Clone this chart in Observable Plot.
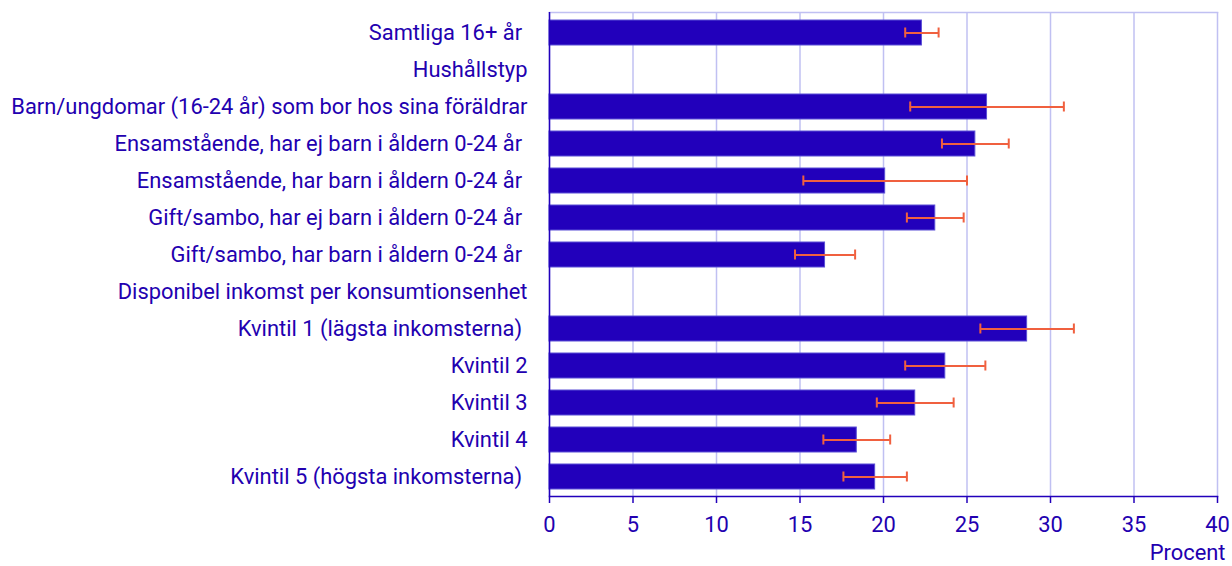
<!DOCTYPE html>
<html>
<head>
<meta charset="utf-8">
<script src="https://cdn.jsdelivr.net/npm/d3@7"></script>
<script src="https://cdn.jsdelivr.net/npm/@observablehq/plot@0.6"></script>
<style>
  html, body { margin: 0; padding: 0; background: #fff; }
  #chart svg { font-family: Roboto, "Noto Sans", sans-serif; }
</style>
</head>
<body>
<div id="chart"></div>
<script>
const categories = [
  "Samtliga 16+ år ",
  "Hushållstyp",
  "Barn/ungdomar (16-24 år) som bor hos sina föräldrar",
  "Ensamstående, har ej barn i åldern 0-24 år ",
  "Ensamstående, har barn i åldern 0-24 år ",
  "Gift/sambo, har ej barn i åldern 0-24 år ",
  "Gift/sambo, har barn i åldern 0-24 år ",
  "Disponibel inkomst per konsumtionsenhet",
  "Kvintil 1 (lägsta inkomsterna) ",
  "Kvintil 2",
  "Kvintil 3",
  "Kvintil 4",
  "Kvintil 5 (högsta inkomsterna) "
];
const values = [22.3, null, 26.2, 25.5, 20.1, 23.1, 16.5, null, 28.6, 23.7, 21.9, 18.4, 19.5];
const lower  = [21.3, null, 21.6, 23.5, 15.2, 21.4, 14.7, null, 25.8, 21.3, 19.6, 16.4, 17.6];
const upper  = [23.3, null, 30.8, 27.5, 25.0, 24.8, 18.3, null, 31.4, 26.1, 24.2, 20.4, 21.4];
const xTicks = [0, 5, 10, 15, 20, 25, 30, 35, 40];
const xLabel = "Procent";

const data = categories.map((c, i) => ({cat: c, value: values[i], lo: lower[i], hi: upper[i]}))
  .filter(d => d.value != null);

const textColor = "#2200b0";
const barColor = "#2200bb";
const gridColor = "#c0c0f2";
const errColor = "#f0603f";
const fs = 21.9;

const chart = Plot.plot({
  width: 1232,
  height: 566,
  marginTop: 12,
  marginBottom: 70,
  marginLeft: 549,
  marginRight: 15,
  style: {color: textColor, fontSize: fs + "px", fontFamily: "Roboto, sans-serif", background: "#fff"},
  x: {domain: [0, 40], ticks: xTicks, label: null},
  y: {domain: categories, paddingInner: 0.33, paddingOuter: 0.165, align: 0.5, label: null},
  marks: [
    Plot.gridX(xTicks, {stroke: gridColor, strokeOpacity: 1, strokeWidth: 1.5}),
    Plot.frame({anchor: "top", stroke: gridColor, strokeOpacity: 1, strokeWidth: 1.5}),
    Plot.barX(data, {y: "cat", x: "value", fill: barColor, stroke: "#5a4fd6", strokeWidth: 1}),
    Plot.ruleY(data, {y: "cat", x1: "lo", x2: "hi", stroke: errColor, strokeWidth: 2}),
    Plot.tickX(data, {y: "cat", x: "lo", stroke: errColor, strokeWidth: 2, insetTop: 7.5, insetBottom: 7.5}),
    Plot.tickX(data, {y: "cat", x: "hi", stroke: errColor, strokeWidth: 2, insetTop: 7.5, insetBottom: 7.5}),
    Plot.ruleX([0], {stroke: barColor, strokeWidth: 1.5}),
    Plot.frame({anchor: "bottom", stroke: barColor, strokeWidth: 1.5}),
    Plot.axisX(xTicks, {tickSize: 7, tickPadding: 13, stroke: barColor, strokeWidth: 1.5, fontSize: fs, label: null}),
    Plot.axisY({tickSize: 0, tickPadding: 22, fontSize: fs, label: null,
      tickFormat: d => d.replace(/ $/, "\u00a0")}),
    Plot.text([xLabel], {frameAnchor: "bottom-right", lineAnchor: "middle", dx: 8, dy: 56, textAnchor: "end", fontSize: fs, fill: textColor})
  ]
});
document.getElementById("chart").appendChild(chart);
</script>
</body>
</html>
